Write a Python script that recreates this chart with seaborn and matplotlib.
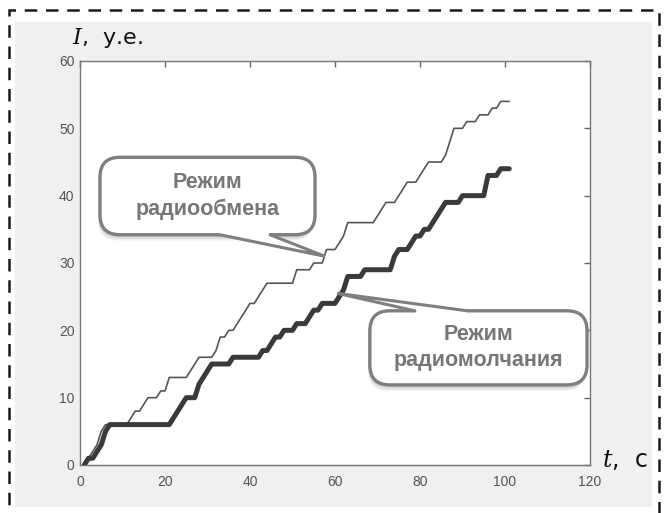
import numpy as np
import pandas as pd
import matplotlib
matplotlib.use("Agg")
import matplotlib.pyplot as plt
import seaborn as sns
from matplotlib.patches import FancyBboxPatch, Polygon, Rectangle
from matplotlib.lines import Line2D

# breakpoints of the two counters (t in s, I in arbitrary units)
t_obmen = [1, 2, 3, 4, 5, 6, 11, 12, 13, 14, 15, 16, 18, 19, 20, 21, 25, 26, 27, 28,
           31, 32, 33, 34, 35, 36, 37, 38, 39, 40, 41, 42, 43, 44, 50, 51, 54, 55, 57,
           58, 60, 61, 62, 63, 69, 70, 71, 72, 74, 75, 76, 77, 79, 80, 81, 82, 85, 86,
           87, 88, 90, 91, 93, 94, 96, 97, 98, 99, 101]
i_obmen = [0, 1, 2, 3, 5, 6, 6, 7, 8, 8, 9, 10, 10, 11, 11, 13, 13, 14, 15, 16,
           16, 17, 19, 19, 20, 20, 21, 22, 23, 24, 24, 25, 26, 27, 27, 29, 29, 30, 30,
           32, 32, 33, 34, 36, 36, 37, 38, 39, 39, 40, 41, 42, 42, 43, 44, 45, 45, 46,
           48, 50, 50, 51, 51, 52, 52, 53, 53, 54, 54]

t_molch = [1, 2, 3, 4, 5, 6, 7, 21, 22, 23, 24, 25, 27, 28, 29, 30, 31, 35, 36, 42,
           43, 44, 45, 46, 47, 48, 50, 51, 53, 54, 55, 56, 57, 60, 61, 62, 63, 66, 67,
           73, 74, 75, 77, 78, 79, 80, 81, 82, 83, 84, 85, 86, 89, 90, 95, 96, 98, 99, 101]
i_molch = [0, 1, 1, 2, 3, 5, 6, 6, 7, 8, 9, 10, 10, 12, 13, 14, 15, 15, 16, 16,
           17, 17, 18, 19, 19, 20, 20, 21, 21, 22, 23, 23, 24, 24, 25, 26, 28, 28, 29,
           29, 31, 32, 32, 33, 34, 34, 35, 35, 36, 37, 38, 39, 39, 40, 40, 43, 43, 44, 44]

x_ticks = [0, 20, 40, 60, 80, 100, 120]
y_ticks = [0, 10, 20, 30, 40, 50, 60]

df1 = pd.DataFrame({"t": t_obmen, "I": i_obmen})
df2 = pd.DataFrame({"t": t_molch, "I": i_molch})

sns.set_style("white")
plt.rcParams['font.family'] = ['Liberation Sans', 'DejaVu Sans']
plt.rcParams['mathtext.fontset'] = 'custom'
plt.rcParams['mathtext.it'] = 'DejaVu Serif:italic'

fig = plt.figure(figsize=(6.67, 5.13), dpi=100, facecolor='white')

# grey panel and dashed frame
fig.patches.append(Rectangle((15/667, 1-507/513), 637/667, 485/513, transform=fig.transFigure,
                             facecolor='#f0f0f0', edgecolor='none', zorder=-2))
fig.patches.append(Rectangle((9/667, -0.05), 650/667, 1.05-10/513, transform=fig.transFigure,
                             facecolor='none', edgecolor='#1a1a1a', lw=1.8,
                             linestyle=(0, (5, 3.5)), zorder=-1))

ax = fig.add_axes([80/667, 1-465/513, 510/667, 404/513])
ax.set_zorder(2)
ax.set_facecolor('white')

sns.lineplot(data=df1, x="t", y="I", ax=ax, color='#555555', lw=1.2, zorder=3)
sns.lineplot(data=df2, x="t", y="I", ax=ax, color='#3a3a3a', lw=3.6, zorder=3)

ax.set_xlim(0, 120)
ax.set_ylim(0, 60)
ax.set_xticks(x_ticks)
ax.set_yticks(y_ticks)
ax.set_xlabel("")
ax.set_ylabel("")
ax.tick_params(direction='in', top=True, right=True, length=4, width=1,
               color='#666666', labelsize=10, labelcolor='#555555')
ax.tick_params(axis='x', pad=7)
ax.tick_params(axis='y', pad=4)
for s in ax.spines.values():
    s.set_color('#777777')
    s.set_linewidth(1)

# axis captions
fig.text(72/667, 1-38/513, r"$I$,  у.е.", fontsize=16, va='center', ha='left',
         family=['DejaVu Sans'], color='#111111', zorder=5)
fig.text(602/667, 1-460/513, r"$t$,  с", fontsize=17, va='center', ha='left',
         family=['DejaVu Sans'], color='#111111', zorder=5)

# speech bubbles
aspect = 4.25/6.733
def bubble(x0, x1, y0, y1, b0, b1, by, tip, inner, text):
    for k, a in [(0.9, 0.10), (0.6, 0.12), (0.3, 0.14)]:
        sh = FancyBboxPatch((x0 - k*0.5, y0 - k*aspect*1.5), x1-x0, y1-y0,
                            boxstyle="round,pad=0,rounding_size=4.7", mutation_aspect=aspect,
                            facecolor='#555555', edgecolor='none', alpha=a, zorder=4,
                            clip_on=False)
        ax.add_patch(sh)
    box = FancyBboxPatch((x0, y0), x1-x0, y1-y0,
                         boxstyle="round,pad=0,rounding_size=4.7", mutation_aspect=aspect,
                         facecolor='white', edgecolor='#7f7f7f', lw=2.4, zorder=5,
                         clip_on=False)
    ax.add_patch(box)
    poly = Polygon([(b0, by + inner), (b0, by), tip, (b1, by), (b1, by + inner)],
                   closed=True, facecolor='white', edgecolor='none', zorder=6, clip_on=False)
    ax.add_patch(poly)
    ax.add_line(Line2D([b0, tip[0], b1], [by, tip[1], by], color='#7f7f7f', lw=2.2,
                       zorder=6, solid_joinstyle='miter'))
    ax.text((x0+x1)/2, (y0+y1)/2, text, ha='center', va='center', fontsize=15.5,
            fontweight='bold', color='#777777', zorder=7, linespacing=1.3)

bubble(4.7, 55.3, 34.2, 45.7, 32.9, 44.7, 34.2, (57.6, 31.0), 0.8,
       "Режим\nрадиообмена")
bubble(68.2, 119.3, 11.9, 22.9, 78.8, 91.1, 22.9, (60.5, 25.5), -0.8,
       "Режим\nрадиомолчания")

fig.savefig("out.png", dpi=100, facecolor=fig.get_facecolor())
